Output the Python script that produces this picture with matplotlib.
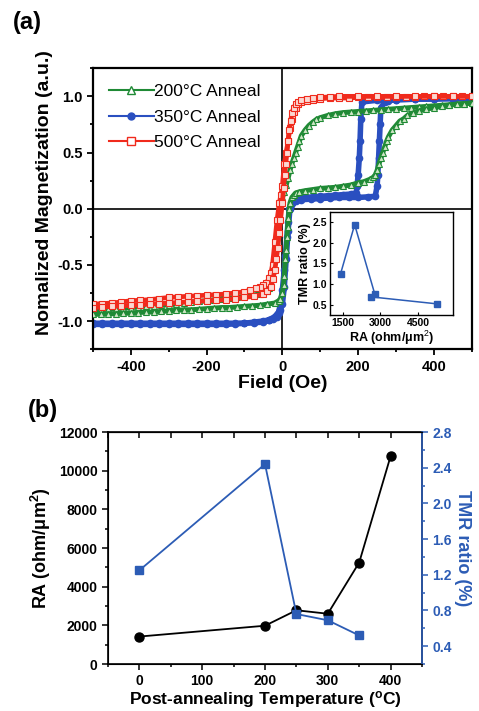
import matplotlib
matplotlib.use("Agg")
import matplotlib.pyplot as plt
from matplotlib.ticker import MultipleLocator

plt.rcParams['font.family'] = ['Liberation Sans', 'DejaVu Sans']
plt.rcParams['mathtext.fontset'] = 'custom'
plt.rcParams['mathtext.rm'] = 'Liberation Sans'
plt.rcParams['mathtext.bf'] = 'Liberation Sans:bold'
plt.rcParams['mathtext.it'] = 'Liberation Sans:italic'
plt.rcParams['axes.unicode_minus'] = False

# ---- panel (a): hysteresis loops ----
# 200 C anneal
g_down_h = [500, 480, 460, 440, 420, 400, 380, 360, 340, 320, 300, 280, 260, 240, 220, 200, 180, 160, 140,
            120, 100, 90, 80, 70, 60, 50, 45, 40, 35, 30, 25, 20, 15, 10, 5, 0, -3, -8, -12, -16, -20, -25,
            -30, -35, -40, -50, -60, -80, -100, -120, -140, -160, -180, -200, -220, -240, -260, -280, -300,
            -320, -340, -360, -380, -400, -420, -440, -460, -480, -500]
g_down_m = [0.94, 0.935, 0.93, 0.925, 0.92, 0.915, 0.91, 0.905, 0.90, 0.895, 0.89, 0.885, 0.88, 0.875,
            0.87, 0.865, 0.86, 0.855, 0.845, 0.83, 0.81, 0.795, 0.77, 0.74, 0.70, 0.65, 0.60, 0.55, 0.50,
            0.45, 0.40, 0.34, 0.27, 0.21, 0.15, 0.10, 0.05, 0.0, -0.15, -0.30, -0.45, -0.60, -0.68, -0.71,
            -0.73, -0.75, -0.76, -0.77, -0.78, -0.79, -0.795, -0.80, -0.81, -0.82, -0.825, -0.83, -0.84,
            -0.85, -0.855, -0.86, -0.865, -0.87, -0.875, -0.88, -0.885, -0.89, -0.895, -0.90, -0.90]
g_up_h = [-500, -480, -460, -440, -420, -400, -380, -360, -340, -320, -300, -280, -260, -240, -220, -200,
          -180, -160, -140, -120, -100, -80, -60, -40, -20, -10, -5, 0, 3, 5, 8, 10, 12, 14, 16, 18, 20, 25,
          30, 35, 45, 60, 80, 100, 120, 140, 160, 180, 200, 215, 230, 240, 245, 250, 255, 260, 265, 270, 275,
          280, 290, 300, 310, 320, 330, 345, 360, 380, 400, 420, 440, 460, 480, 500]
g_up_m = [-0.94, -0.94, -0.935, -0.935, -0.93, -0.93, -0.925, -0.92, -0.92, -0.915, -0.91, -0.905, -0.90,
          -0.90, -0.895, -0.89, -0.885, -0.88, -0.88, -0.875, -0.87, -0.865, -0.86, -0.85, -0.84, -0.82,
          -0.80, -0.75, -0.68, -0.60, -0.45, -0.37, -0.25, -0.16, -0.08, 0.0, 0.05, 0.10, 0.12, 0.14, 0.15,
          0.16, 0.17, 0.18, 0.185, 0.19, 0.20, 0.21, 0.23, 0.24, 0.26, 0.28, 0.30, 0.34, 0.40, 0.45, 0.50,
          0.55, 0.60, 0.64, 0.70, 0.74, 0.78, 0.80, 0.83, 0.85, 0.87, 0.885, 0.90, 0.91, 0.92, 0.93, 0.935,
          0.94]

# 350 C anneal
b_down_h = [500, 450, 400, 350, 300, 250, 210, 207, 205, 203, 200, 197, 195, 180, 160, 140, 120, 100, 80,
            60, 50, 40, 30, 25, 20, 15, 10, 5, 0, -5, -10, -15, -25, -35, -50, -75, -100, -125, -150, -175,
            -200, -225, -250, -275, -300, -325, -350, -375, -400, -425, -450, -475, -500]
b_down_m = [0.98, 0.98, 0.975, 0.975, 0.97, 0.965, 0.95, 0.80, 0.60, 0.45, 0.30, 0.20, 0.14, 0.13, 0.125,
            0.12, 0.115, 0.11, 0.105, 0.10, 0.10, 0.09, 0.08, 0.05, 0.0, -0.20, -0.45, -0.70, -0.85, -0.90,
            -0.93, -0.96, -0.98, -0.99, -1.00, -1.01, -1.02, -1.02, -1.02, -1.02, -1.02, -1.02, -1.02, -1.02,
            -1.02, -1.02, -1.02, -1.02, -1.02, -1.02, -1.02, -1.02, -1.02]
b_up_h = [-500, -475, -450, -425, -400, -375, -350, -325, -300, -275, -250, -225, -200, -175, -150, -125,
          -100, -75, -50, -35, -20, -10, -5, 0, 5, 8, 12, 15, 18, 22, 25, 35, 50, 75, 100, 125, 150, 175, 200,
          225, 245, 250, 252, 254, 256, 258, 260, 270, 280, 300, 350, 400, 450, 500]
b_up_m = [-1.03, -1.03, -1.03, -1.03, -1.03, -1.03, -1.03, -1.03, -1.03, -1.03, -1.03, -1.03, -1.03, -1.03,
          -1.03, -1.025, -1.02, -1.015, -1.01, -0.99, -0.96, -0.92, -0.85, -0.72, -0.55, -0.42, -0.25,
          -0.12, 0.0, 0.03, 0.05, 0.07, 0.08, 0.085, 0.09, 0.095, 0.10, 0.10, 0.10, 0.105, 0.11, 0.20, 0.30,
          0.45, 0.60, 0.75, 0.90, 0.95, 0.96, 0.97, 0.975, 0.98, 0.98, 0.98]

# 500 C anneal
r_down_h = [500, 475, 450, 425, 400, 375, 350, 325, 300, 275, 250, 225, 200, 175, 150, 125, 100, 80, 65,
            50, 42, 35, 30, 25, 20, 15, 10, 5, 0, -4, -8, -14, -20, -26, -30, -35, -42, -50, -60, -70, -85,
            -100, -125, -150, -175, -200, -225, -250, -275, -300, -325, -350, -375, -400, -425, -450, -475,
            -500]
r_down_m = [1.0, 1.0, 1.0, 1.0, 1.0, 1.0, 0.995, 0.995, 0.995, 0.99, 0.99, 0.99, 0.99, 0.985, 0.985, 0.985,
            0.98, 0.97, 0.96, 0.95, 0.93, 0.90, 0.86, 0.80, 0.72, 0.60, 0.50, 0.40, 0.20, 0.12, 0.05, -0.10,
            -0.30, -0.50, -0.57, -0.62, -0.66, -0.68, -0.70, -0.71, -0.725, -0.74, -0.75, -0.76, -0.765,
            -0.77, -0.775, -0.78, -0.785, -0.79, -0.80, -0.81, -0.815, -0.82, -0.83, -0.84, -0.845, -0.85]
r_up_h = [-500, -475, -450, -425, -400, -375, -350, -325, -300, -275, -250, -225, -200, -175, -150, -125,
          -100, -75, -50, -40, -30, -25, -20, -16, -12, -8, -5, 0, 3, 6, 9, 12, 15, 18, 22, 25, 30, 35, 42,
          50, 65, 80, 100, 125, 150, 200, 250, 300, 350, 400, 450, 500]
r_up_m = [-0.88, -0.875, -0.87, -0.865, -0.86, -0.855, -0.85, -0.845, -0.84, -0.835, -0.83, -0.825, -0.82,
          -0.815, -0.81, -0.80, -0.79, -0.78, -0.76, -0.73, -0.70, -0.63, -0.55, -0.45, -0.35, -0.22, -0.10,
          0.05, 0.18, 0.30, 0.40, 0.50, 0.60, 0.70, 0.78, 0.85, 0.90, 0.93, 0.95, 0.97, 0.98, 0.985, 0.99,
          0.995, 1.0, 1.0, 1.0, 1.0, 1.0, 1.0, 1.0, 1.0]

# inset / panel (b)
temp = [0, 200, 250, 300, 350, 400]
ra = [1420, 1980, 2780, 2600, 5250, 10750]
tmr_temp = [0, 200, 250, 300, 350]
tmr = [1.25, 2.44, 0.76, 0.69, 0.52]
inset_ra = [1420, 1980, 2780, 2620, 5250]

green = '#1f8a35'
blue = '#2a4fc0'
red = '#f02a1c'
tblue = '#2c5cb5'

fig = plt.figure(figsize=(4.79, 7.11), dpi=100)

ax = fig.add_axes([0.194, 0.509, 0.791, 0.395])
for hh, mm in [(b_down_h, b_down_m), (b_up_h, b_up_m)]:
    ax.plot(hh, mm, color=blue, lw=4, marker='o', ms=4.5, mfc=blue, mec=blue, zorder=2)
for hh, mm in [(g_down_h, g_down_m), (g_up_h, g_up_m)]:
    ax.plot(hh, mm, color=green, lw=3.6, marker='^', ms=5, mfc='#cfe6c6', mec=green, mew=0.8, zorder=3)
for hh, mm in [(r_down_h, r_down_m), (r_up_h, r_up_m)]:
    ax.plot(hh, mm, color=red, lw=3.4, marker='s', ms=5, mfc='#fbd8d2', mec=red, mew=0.8, zorder=4)

# legend handles
h1, = ax.plot([], [], color=green, lw=1.5, marker='^', ms=6, mfc='white', mec=green)
h2, = ax.plot([], [], color=blue, lw=1.5, marker='o', ms=5, mfc=blue, mec=blue)
h3, = ax.plot([], [], color=red, lw=1.5, marker='s', ms=5.5, mfc='white', mec=red)
ax.legend([h1, h2, h3], ['200°C Anneal', '350°C Anneal', '500°C Anneal'], loc='upper left',
          frameon=False, fontsize=12.5, handlelength=2.6, handletextpad=0.0, labelspacing=0.6,
          borderaxespad=0.5, bbox_to_anchor=(0.0, 1.0))

ax.axhline(0, color='black', lw=1.2, zorder=1)
ax.axvline(0, color='black', lw=1.2, zorder=1)
ax.set_xlim(-500, 500)
ax.set_ylim(-1.25, 1.25)
ax.set_xticks([-400, -200, 0, 200, 400])
ax.xaxis.set_minor_locator(MultipleLocator(100))
ax.set_yticks([-1.0, -0.5, 0.0, 0.5, 1.0])
ax.yaxis.set_minor_locator(MultipleLocator(0.25))
ax.tick_params(which='both', direction='out', width=1.3, labelsize=10.5)
ax.tick_params(which='major', length=4)
ax.tick_params(which='minor', length=2.5)
for lab in ax.get_xticklabels() + ax.get_yticklabels():
    lab.set_fontweight('bold')
for sp in ax.spines.values():
    sp.set_linewidth(1.6)
ax.set_xlabel('Field (Oe)', fontsize=14, fontweight='bold', labelpad=1)
fig.text(45 / 479, 1 - 193 / 711, 'Nomalized Magnetization (a.u.)', rotation=90, ha='center', va='center',
         fontsize=14, fontweight='bold')
fig.text(27 / 479, 1 - 22 / 711, '(a)', ha='center', va='center', fontsize=17, fontweight='bold')

# inset
ins = fig.add_axes([0.689, 0.557, 0.257, 0.145])
ins.plot(inset_ra, tmr, color=tblue, lw=1.1, marker='s', ms=4.5, mfc=tblue, mec=tblue)
ins.set_xlim(1000, 5900)
ins.set_ylim(0.25, 2.75)
ins.set_xticks([1500, 3000, 4500])
ins.set_yticks([0.5, 1.0, 1.5, 2.0, 2.5])
ins.set_yticklabels(['0.5', '1.0', '1.5', '2.0', '2.5'])
ins.tick_params(direction='in', length=2.5, width=0.8, labelsize=7.5, pad=2)
for lab in ins.get_xticklabels() + ins.get_yticklabels():
    lab.set_fontweight('bold')
ins.set_xlabel('RA (ohm/μm$^2$)', fontsize=9, fontweight='bold', labelpad=1)
ins.set_ylabel('TMR ratio (%)', fontsize=9, fontweight='bold', labelpad=1)
for sp in ins.spines.values():
    sp.set_linewidth(1.0)

# ---- panel (b) ----
bx = fig.add_axes([0.2255, 0.0661, 0.6555, 0.3263])
bx.plot(temp, ra, color='black', lw=1.3, marker='o', ms=6.5, zorder=3)
bx.set_xlim(-50, 450)
bx.set_ylim(0, 12000)
bx.set_xticks([0, 100, 200, 300, 400])
bx.xaxis.set_minor_locator(MultipleLocator(50))
bx.set_yticks(range(0, 12001, 2000))
bx.yaxis.set_minor_locator(MultipleLocator(1000))
bx.tick_params(which='both', direction='out', width=1.1, labelsize=10)
bx.tick_params(which='major', length=4)
bx.tick_params(which='minor', length=2.5)
for lab in bx.get_xticklabels() + bx.get_yticklabels():
    lab.set_fontweight('bold')
bx.set_xlabel('Post-annealing Temperature ($^{\\mathbf{o}}$C)', fontsize=12.5, fontweight='bold', labelpad=0.5)
bx.set_ylabel('RA (ohm/μm$^{\\mathbf{2}}$)', fontsize=13, fontweight='bold', labelpad=4)
for sp in bx.spines.values():
    sp.set_linewidth(1.2)

bx2 = bx.twinx()
bx2.plot(tmr_temp, tmr, color=tblue, lw=1.3, marker='s', ms=6, mfc=tblue, mec=tblue, zorder=4)
bx2.set_ylim(0.2, 2.8)
bx2.set_yticks([0.4, 0.8, 1.2, 1.6, 2.0, 2.4, 2.8])
bx2.yaxis.set_minor_locator(MultipleLocator(0.2))
bx2.tick_params(which='both', direction='out', width=1.1, labelsize=10, colors=tblue)
bx2.tick_params(which='major', length=4)
bx2.tick_params(which='minor', length=2.5)
for lab in bx2.get_yticklabels():
    lab.set_fontweight('bold')
bx2.spines['right'].set_color(tblue)
bx2.spines['right'].set_linewidth(1.2)
bx2.set_ylabel('TMR ratio (%)', fontsize=13, fontweight='bold', color=tblue, rotation=270, labelpad=14)
# top ticks inward
sec = bx.secondary_xaxis('top')
sec.set_xticks([0, 100, 200, 300, 400])
sec.xaxis.set_minor_locator(MultipleLocator(50))
sec.tick_params(which='both', direction='in', length=4, width=1.1, labeltop=False)
fig.text(43 / 479, 1 - 410 / 711, '(b)', ha='center', va='center', fontsize=17, fontweight='bold')

fig.savefig('out.png', dpi=100)
